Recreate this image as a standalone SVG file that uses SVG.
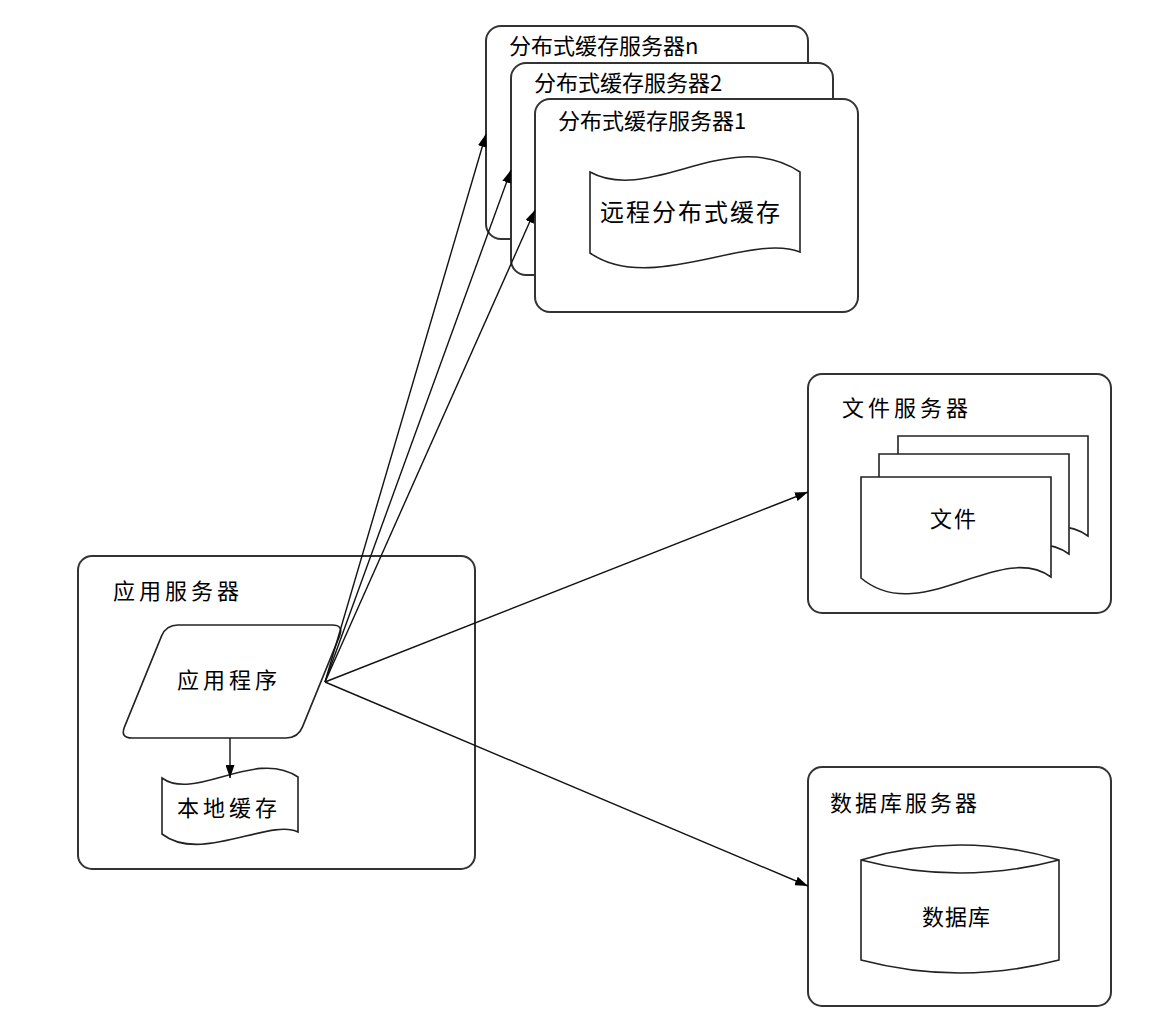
<svg xmlns="http://www.w3.org/2000/svg" width="1160" height="1017" viewBox="0 0 1160 1017">
<defs>
<style>
.box{fill:#fff;stroke:#333;stroke-width:2}
.shape{fill:#fff;stroke:#222;stroke-width:1.6}
.t{font-family:"Noto Sans CJK SC","Noto Sans",sans-serif;font-size:22px;fill:#000}
.c{fill:none;stroke:#111;stroke-width:1.4}
</style>
<marker id="arr" viewBox="0 0 13 9" markerWidth="13" markerHeight="9" refX="13" refY="4.5" orient="auto" markerUnits="userSpaceOnUse">
<path d="M0,0 L13,4.5 L0,9 z" fill="#000"/>
</marker>
</defs>
<rect width="1160" height="1017" fill="#fff"/>

<g id="cache-server-n">
<rect class="box" x="486" y="26" width="322" height="213" rx="15"/>
<text class="t" x="509" y="54" style="font-size:22px">分布式缓存服务器n</text>
</g>
<g id="cache-server-2">
<rect class="box" x="511" y="63" width="322" height="212" rx="15"/>
<text class="t" x="534" y="91" style="font-size:22px">分布式缓存服务器2</text>
</g>
<g id="cache-server-1">
<rect class="box" x="535" y="99" width="323" height="213" rx="15"/>
<text class="t" x="558" y="129" style="font-size:22px">分布式缓存服务器1</text>
<path class="shape" d="M590,172 C650,205 730,125 800,172 L800,252 C750,232 650,295 590,253 Z"/>
<text class="t" x="600" y="221" style="font-size:24px;letter-spacing:2px">远程分布式缓存</text>
</g>

<g id="app-server">
<rect class="box" x="78" y="556" width="397" height="313" rx="14"/>
<text class="t" x="113" y="599" style="letter-spacing:4px">应用服务器</text>
</g>
<g id="app">
<path class="shape" d="M178,625 L332,625 Q344,625 339.5,636.1 L302.5,726.9 Q298,738 286,738 L132,738 Q120,738 124.5,726.9 L161.5,636.1 Q166,625 178,625 Z"/>
<text class="t" x="177" y="688" style="letter-spacing:4px">应用程序</text>
</g>
<g id="local-cache">
<path class="shape" d="M162,778 C195,802 255,748 298,777 L298,832 C270,818 200,864 162,834 Z"/>
<text class="t" x="177" y="816" style="letter-spacing:4px">本地缓存</text>
</g>

<g id="file-server">
<rect class="box" x="808" y="374" width="303" height="239" rx="14"/>
<text class="t" x="842" y="416" style="letter-spacing:4px">文件服务器</text>
<path class="shape" transform="translate(37,-41)" d="M861,477 H1051 V577 C1000,540 920,628 861,578 Z"/>
<path class="shape" transform="translate(18,-23)" d="M861,477 H1051 V577 C1000,540 920,628 861,578 Z"/>
<path class="shape" d="M861,477 H1051 V577 C1000,540 920,628 861,578 Z"/>
<text class="t" x="930" y="527" style="letter-spacing:2px">文件</text>
</g>

<g id="db-server">
<rect class="box" x="808" y="767" width="303" height="239" rx="14"/>
<text class="t" x="830" y="811" style="letter-spacing:3px">数据库服务器</text>
<path class="shape" d="M861,860 Q960,830 1059,860 L1059,960 Q960,986 861,960 Z"/>
<path class="shape" fill="none" d="M861,860 Q960,886 1059,860"/>
<text class="t" x="922" y="925" style="letter-spacing:1px">数据库</text>
</g>

<g id="connectors">
<line class="c" x1="325" y1="682" x2="486" y2="134" marker-end="url(#arr)"/>
<line class="c" x1="325" y1="682" x2="511" y2="170" marker-end="url(#arr)"/>
<line class="c" x1="325" y1="682" x2="535" y2="210" marker-end="url(#arr)"/>
<line class="c" x1="325" y1="682" x2="808" y2="492" marker-end="url(#arr)"/>
<line class="c" x1="325" y1="682" x2="808" y2="886" marker-end="url(#arr)"/>
<line class="c" x1="230" y1="738" x2="230" y2="778" marker-end="url(#arr)"/>
</g>
</svg>
